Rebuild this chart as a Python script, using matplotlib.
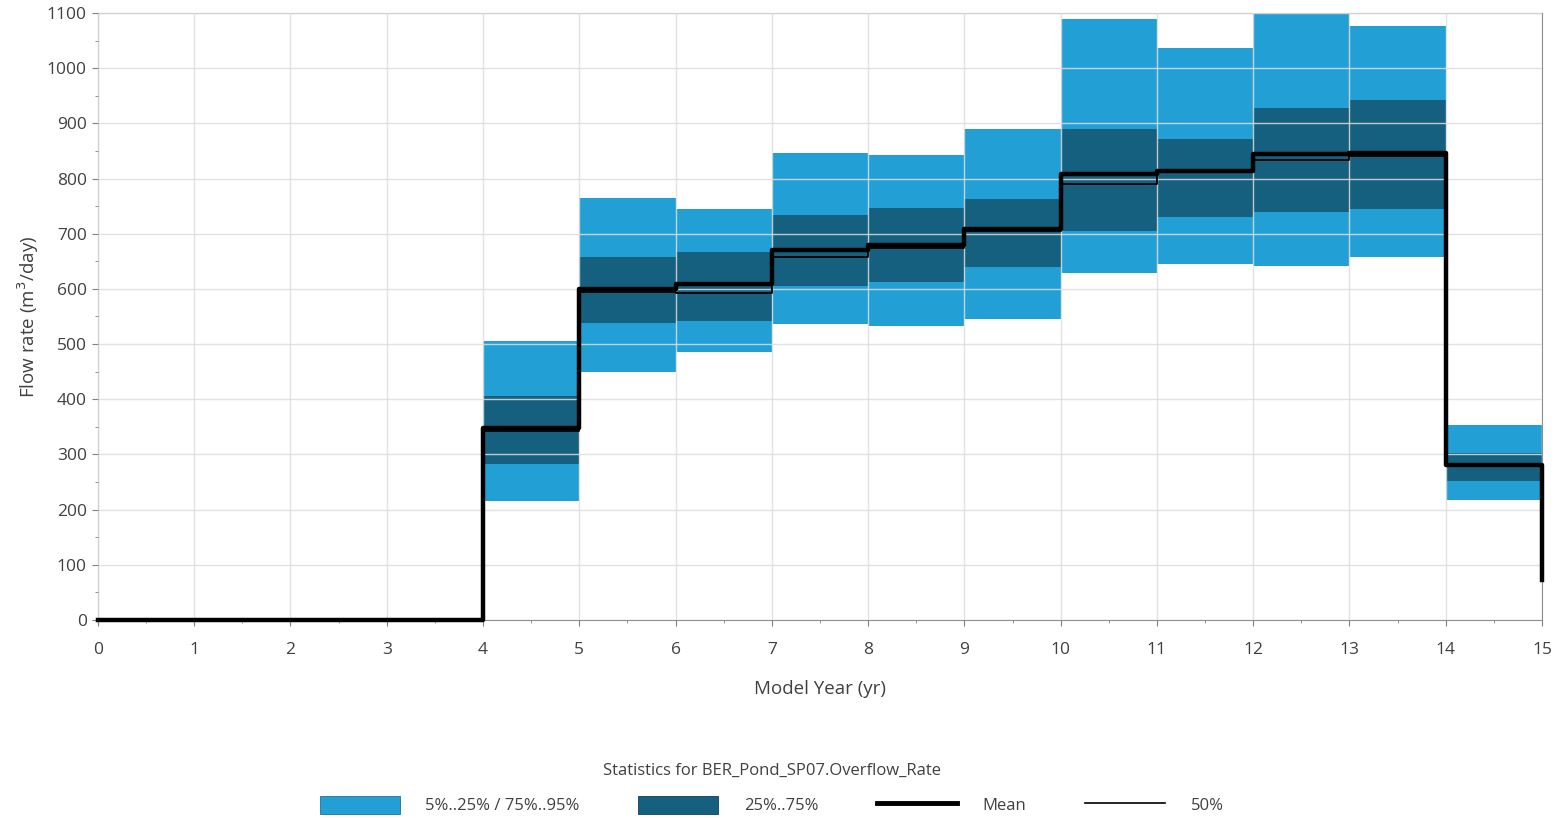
import matplotlib.pyplot as plt
import matplotlib.patches as mpatches
from matplotlib.lines import Line2D
import numpy as np

plt.rcParams['font.family'] = ['Open Sans', 'DejaVu Sans']

# yearly statistics of the pond overflow (m3/day), one value per model year 0..14
years = np.arange(0, 16)
p95 = [0, 0, 0, 0, 505, 765, 745, 847, 843, 889, 1090, 1036, 1099, 1076, 353]
p75 = [0, 0, 0, 0, 405, 657, 666, 734, 746, 763, 889, 871, 927, 943, 302]
mean = [0, 0, 0, 0, 348, 599, 608, 670, 679, 708, 808, 814, 845, 847, 281]
p50 = [0, 0, 0, 0, 343, 594, 593, 658, 675, 705, 791, 811, 834, 840, 279]
p25 = [0, 0, 0, 0, 282, 538, 542, 605, 612, 639, 705, 731, 740, 744, 251]
p5 = [0, 0, 0, 0, 215, 450, 485, 536, 533, 545, 629, 646, 642, 657, 217]
mean_end = 72
p50_end = 72

light = '#22a0d5'
dark = '#16607f'
txt = '#404040'


def steps(v):
    return np.array(v + [v[-1]], dtype=float)


fig = plt.figure(figsize=(15.62, 8.18), dpi=100)
ax = fig.add_axes([0.0627, 0.2421, 0.9245, 0.742])

# bands only where the pond overflows (from year 4)
on = years >= 4
ax.fill_between(years, steps(p5), steps(p95), where=on, step='post',
                color=light, lw=0, zorder=1)
ax.fill_between(years, steps(p25), steps(p75), where=on, step='post',
                color=dark, lw=0, zorder=1.1)

xs = np.append(years, 15)
ax.plot(xs, np.append(steps(p50), p50_end), drawstyle='steps-post',
        color='black', lw=1.3, zorder=3, clip_on=False)
ax.plot(xs, np.append(steps(mean), mean_end), drawstyle='steps-post',
        color='black', lw=3.2, zorder=3.1, clip_on=False)

ax.set_xlim(0, 15)
ax.set_ylim(0, 1100)
ax.set_xticks(range(0, 16))
ax.set_yticks(range(0, 1101, 100))
ax.set_xticks(np.arange(0, 15.01, 0.5), minor=True)
ax.set_yticks(range(0, 1101, 50), minor=True)
ax.grid(True, which='major', color='#dddddd', lw=1, alpha=0.85, zorder=2)
ax.set_axisbelow(False)
for l in ax.get_xgridlines() + ax.get_ygridlines():
    l.set_zorder(2)

ax.tick_params(which='major', length=4, color='#808080', labelsize=12.5,
               labelcolor=txt)
ax.tick_params(axis='x', which='major', pad=12)
ax.tick_params(axis='y', which='major', pad=4)
ax.tick_params(which='minor', length=2.5, color='#808080')
for s in ['left', 'bottom']:
    ax.spines[s].set_color('#909090')
for s in ['top', 'right']:
    ax.spines[s].set_color('#909090')
    ax.spines[s].set_linewidth(0.8)

ax.set_xlabel('Model Year (yr)', fontsize=13.5, color=txt, labelpad=16)
ax.set_ylabel('Flow rate (m$^3$/day)', fontsize=13.5, color=txt, labelpad=4)

handles = [
    mpatches.Patch(facecolor=light, edgecolor='#2a6f8f', lw=0.6),
    mpatches.Patch(facecolor=dark, edgecolor='#0d3f55', lw=0.6),
    Line2D([], [], color='black', lw=3.5),
    Line2D([], [], color='black', lw=1.2),
]
labels = ['5%..25% / 75%..95%', '25%..75%', 'Mean', '50%']
leg = fig.legend(handles, labels, loc='center', bbox_to_anchor=(0.494, 0.036),
                 ncol=4, frameon=False, fontsize=12, handlelength=4.8,
                 handleheight=1.3, handletextpad=1.55, columnspacing=3.5,
                 title='Statistics for BER_Pond_SP07.Overflow_Rate',
                 title_fontsize=12)
for t in leg.get_texts():
    t.set_color(txt)
leg.get_title().set_color(txt)
leg._legend_box.sep = 12

fig.savefig('out.png', dpi=100)
